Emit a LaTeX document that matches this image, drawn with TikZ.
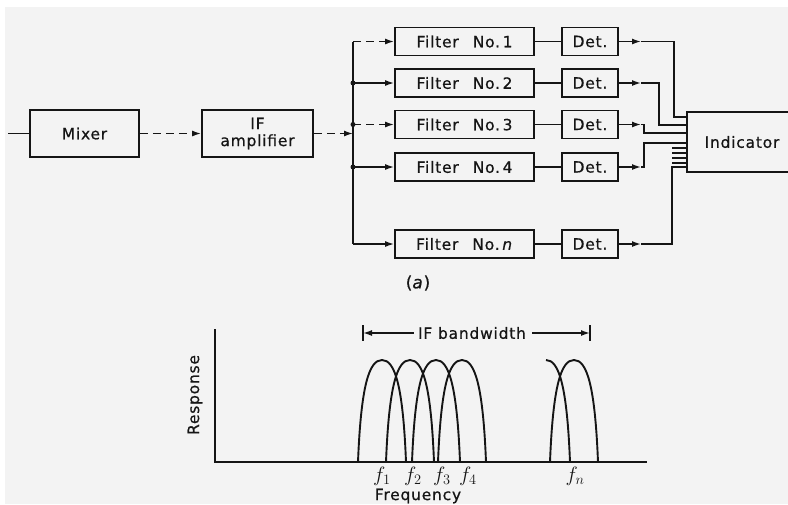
\documentclass[tikz,border=0pt]{standalone}
\usepackage{fontspec}
\newfontfamily\lab[LetterSpace=5,FakeBold=0.6]{DejaVu Sans}
\usetikzlibrary{arrows.meta,calc}
\definecolor{bgc}{HTML}{F3F3F3}
\definecolor{ink}{HTML}{151515}
\begin{document}
\begin{tikzpicture}[x=1pt,y=-1pt, color=ink,
  box/.style={draw=ink, line width=1.8pt, inner sep=0pt, text=ink,
    font=\lab\fontsize{15.5}{17}\selectfont, align=center},
  wire/.style={draw=ink, line width=1.5pt},
  arr/.style={wire, -{Latex[length=9pt,width=6pt]}},
  dsh/.style={dash pattern=on 8pt off 5pt},
  jdot/.style={circle, fill=ink, inner sep=0pt, minimum size=5pt},
  lbl/.style={text=ink, inner sep=0pt, font=\lab\fontsize{15.5}{17}\selectfont},
  curve/.style={draw=ink, line width=1.9pt}]
\useasboundingbox (0,0) rectangle (788,504);
\clip (0,0) rectangle (788,504);
\fill[white] (0,0) rectangle (788,504);
\fill[bgc] (5,7) rectangle (788,504);

% --- block diagram ---
\coordinate (in) at (8,133.5);
\node[box, minimum width=109pt, minimum height=47pt] (mix) at (84.5,133.5) {Mixer};
\node[box, minimum width=111pt, minimum height=47pt] (ifa) at (257.5,133.5) {IF\\amplifier};

\foreach \n/\y/\t in {1/41.5/1, 2/83/2, 3/124.5/3, 4/167/4, n/244/\textit{n}} {
  \node[box, minimum width=139pt, minimum height=28pt] (f\n) at (464.5,\y) {Filter\hspace{14pt}No.\,\t};
  \node[box, minimum width=56pt, minimum height=28pt] (d\n) at (590,\y) {Det.};
  \coordinate (b\n) at (353,\y);
  \coordinate (a\n) at (641,\y);
}
\node[box, minimum width=110pt, minimum height=60pt] (ind) at (742,142) {Indicator};

\draw[wire] (in) -- (mix);
\draw[arr, dsh] (mix) -- (ifa);
\coordinate (bi) at (353,133.5);
\draw[arr, dsh] (ifa) -- (bi);
\draw[wire] (b1) -- (bn);
\draw[arr, dsh] (b1) -- (f1);
\draw[arr] (b2) -- (f2);
\draw[arr, dsh] (b3) -- (f3);
\draw[arr] (b4) -- (f4);
\draw[arr] (bn) -- (fn);
\node[jdot] at (b2) {};
\node[jdot] at (b3) {};
\node[jdot] at (b4) {};

\foreach \n in {1,2,3,4,n} {
  \draw[wire] (f\n) -- (d\n);
  \draw[arr] (d\n) -- (a\n);
}
% routing into the indicator
\coordinate (i1) at (ind.west |- 0,117);
\coordinate (i2) at (ind.west |- 0,125);
\coordinate (i3) at (ind.west |- 0,133);
\coordinate (i4) at (ind.west |- 0,143);
\coordinate (in5) at (ind.west |- 0,167);
\draw[wire] (a1) -| ($(i1)+(-12,0)$) -- (i1);
\draw[wire] (a2) -| ($(i2)+(-27,0)$) -- (i2);
\draw[wire] (a3) -| ($(i3)+(-42,0)$) -- (i3);
\draw[wire] (a4) -| ($(i4)+(-42,0)$) -- (i4);
\draw[wire] (an) -| ($(in5)+(-14,0)$) -- (in5);
\foreach \s in {148,153,158,163} {
  \coordinate (s\s) at (ind.west |- 0,\s);
  \draw[wire, line width=1.2pt] ($(s\s)+(-14,0)$) -- (s\s);
}

\node[lbl, font=\lab\fontsize{17}{19}\selectfont] (cap) at (418,283) {(\textit{a})};

% --- response chart ---
\coordinate (org) at (215,462);
\coordinate (ytop) at (215,329);
\coordinate (xend) at (647,462);
\draw[wire, line width=1.7pt] (ytop) -- (org) -- (xend);

\foreach \x in {358,386,412,438,550} {
  \draw[curve] (\x,462) .. controls +(3,-76) and +(-13,0) .. (\x+24,360)
                        .. controls +(13,0) and +(-3,-76) .. (\x+48,462);
}
\draw[curve] (546,360) .. controls (559,360) and (567,386) .. (570,462);

\node[lbl, rotate=90] (resp) at (195,395) {Response};
\node[lbl] (freq) at (418,496) {Frequency};
\foreach \x/\t in {382/1, 413/2, 442/3, 468/4, 575/n}
  \node[text=ink, font=\fontsize{20}{22}\selectfont] at (\x,476) {$f_{\t}$};

\node[lbl] (bw) at (472,333) {IF bandwidth};
\coordinate (bl) at (363,333);
\coordinate (br) at (590,333);
\draw[wire] ($(bl)+(0,-8)$) -- ($(bl)+(0,8)$);
\draw[wire] ($(br)+(0,-8)$) -- ($(br)+(0,8)$);
\draw[arr] ($(bw.west)+(-4,0)$) -- (bl);
\draw[arr] ($(bw.east)+(6,0)$) -- (br);
\end{tikzpicture}
\end{document}
